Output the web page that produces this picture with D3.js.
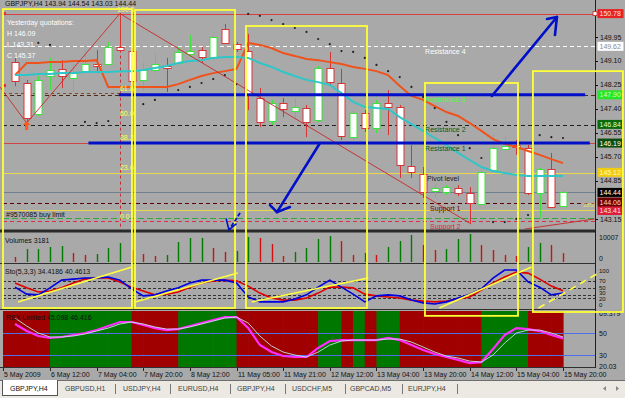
<!DOCTYPE html>
<html><head><meta charset="utf-8">
<script src="https://cdn.jsdelivr.net/npm/d3@7"></script>
<style>
body{margin:0;background:#a9a9a9;overflow:hidden}
svg{display:block}
text{font-family:"Liberation Sans",Arial,sans-serif;font-size:7px}
</style></head><body>
<svg id="chart" width="625" height="398"></svg>
<script>
// ---------------- DATA ----------------
const opens  = [149.06,148.32,147.22,148.57,148.82,148.50,148.74,148.99,148.99,149.60,149.45,148.43,148.78,148.92,149.03,149.35,149.49,149.24,150.23,149.70,149.45,147.79,146.97,147.61,147.33,147.43,147.01,148.85,148.32,146.40,147.25,146.72,147.61,147.47,145.38,145.09,144.49,144.45,144.60,144.42,144.03,145.23,145.98,146.12,146.01,144.42,145.27,143.96];
const highs  = [149.21,148.43,148.57,149.21,149.13,148.99,149.49,149.49,149.77,150.78,149.56,149.03,149.38,149.21,149.60,150.02,149.60,150.02,150.41,149.77,150.06,148.14,147.72,147.79,147.79,147.54,148.92,149.42,148.82,147.36,147.36,147.72,148.07,147.54,146.12,145.34,144.70,144.70,144.70,144.63,145.23,146.47,146.47,146.30,146.12,145.30,145.84,144.52];
const lows   = [148.21,146.90,147.15,148.07,148.14,148.00,148.71,148.67,148.96,149.42,147.89,148.04,148.71,148.00,148.99,149.24,149.03,149.13,149.70,149.42,147.36,146.76,146.83,147.11,147.01,146.40,146.94,148.25,146.30,146.30,146.58,146.55,146.47,144.95,144.95,144.24,144.24,144.35,144.31,143.31,143.99,145.20,145.94,145.77,144.35,143.53,143.89,143.92];
const closes = [148.39,147.08,148.43,148.78,148.57,148.67,148.99,148.92,149.60,149.49,148.39,148.78,148.99,148.85,149.42,149.45,149.24,149.95,149.74,149.52,147.89,146.94,147.61,147.40,147.47,146.94,148.85,148.35,146.44,147.25,146.72,147.61,147.47,145.41,145.16,144.45,144.60,144.63,144.42,144.06,145.16,146.01,146.08,146.05,144.42,145.27,143.92,144.44];
const volumes = [1790,4650,4660,5360,5720,3220,2500,2860,5000,6790,4290,2860,2140,2500,7150,8580,8600,5000,3570,3930,8930,8580,6430,2140,3570,5000,8220,9290,7500,2500,3220,2500,5360,7500,9650,6080,4290,4650,8220,10007,6080,4290,2500,2140,5360,6790,6080,3181];
const maOrange = [148.60,149.03,149.03,149.06,149.06,149.10,149.10,149.13,148.18,148.18,148.18,148.18,148.18,148.18,148.28,148.43,148.57,148.67,148.74,148.82,149.74,149.67,149.56,149.38,149.28,149.17,149.13,149.06,148.99,148.89,148.82,148.74,148.60,148.21,147.86,147.72,147.50,147.29,147.15,146.90,146.62,146.33,146.16,146.05,145.91,145.77,145.62,145.48];
const maCyan = [148.60,148.60,148.64,148.64,148.67,148.67,148.71,148.71,148.71,148.74,148.74,148.78,148.85,148.92,149.03,149.10,149.13,149.21,149.24,149.24,149.21,149.03,148.89,148.71,148.57,148.43,148.35,148.25,147.96,147.65,147.47,147.43,147.40,147.11,146.86,146.62,146.37,146.12,145.84,145.59,145.34,145.20,145.13,145.06,145.02,145.02,145.02,145.02];
const sarBars = [2,3,6,7,8,11,12,14,15,16,17,18,19,20,21,22,23,24,25,26,27,28,29,30,31,32,33,34,35,36,37,38,39,40,41,42,43,44,45,46,47];
const sarValues = [149.74,149.67,146.94,146.90,146.97,147.57,147.72,148.07,148.18,148.32,148.46,148.60,148.28,150.77,150.70,150.55,150.41,150.27,150.13,149.88,149.70,149.45,149.42,149.21,148.96,148.74,148.53,148.18,147.82,147.43,146.94,146.47,146.01,145.66,143.39,143.39,143.50,143.64,146.47,146.40,146.37];
const stochMain = [51,31,29,49,71,74,77,77,80,71,46,26,29,40,49,63,71,71,71,63,23,9,9,9,17,29,51,71,51,31,9,26,29,26,14,6,3,9,20,31,46,77,100,100,66,51,29,34.42];
const stochSignal = [63,49,37,40,49,63,74,77,77,66,51,40,29,31,37,51,63,69,71,69,54,34,20,14,14,20,34,51,51,49,31,26,23,20,14,11,9,11,17,23,43,63,80,94,91,74,54,40.46];
const rsxMain = [58.2,51.8,47.3,45.5,46.4,48.2,50,52.7,56.4,60,60,57.3,54.5,52.7,53.6,56.4,59.1,61.8,64.5,64.5,54.5,39.1,32.7,29.1,28.2,28.2,36.4,42.7,43.6,43.6,43.6,43.6,45.5,43.6,39.1,34.5,30.9,28.2,25.5,22.7,23.6,35.5,48.2,54.5,53.6,51.8,48.2,45.1];
const rsxSignal = [63.6,56.4,50,46.4,46.4,47.3,49.1,51.8,54.5,58.2,60,58.2,55.5,53.6,53.6,55.5,58.2,60.9,63.6,64.5,59.1,47.3,38.2,32.7,30,28.2,32.7,39.1,42.7,43.6,43.6,43.6,44.5,44.5,41.8,37.3,32.7,29.1,27.3,24.5,23.6,30,40.9,50,52.7,52.7,50,46.4];
const rsxTrend = [0,0,0,0,1,1,1,1,1,1,1,0,0,0,0,1,1,1,1,1,0,0,0,0,0,0,0,1,1,0,1,0,1,1,0,0,0,0,0,0,0,1,1,1,1,0,0,0];
const timeLabels = ['5 May 2009','6 May 12:00','7 May 04:00','7 May 20:00','8 May 12:00','11 May 05:00','11 May 21:00','12 May 12:00','13 May 04:00','13 May 20:00','14 May 12:00','15 May 04:00','15 May 20:00'];
const timeBars = [-1,3,7,11,15,19,23,27,31,35,39,43,47];
const priceTicks = [149.95,149.10,148.25,147.40,146.55,145.70,144.85,143.15];
const pivotNames = ['Resistance 4','Resistance 3','Resistance 2','Resistance 1','Pivot level','Support 1','Support 2'];
const pivotPrices = [149.62,147.90,146.84,146.19,145.12,144.06,143.41];
const highPrice = 150.78, bidPrice = 144.44, limitPrice = 143.53, yellowLevel = 143.82;
const boxPrices = [150.78,149.62,147.90,146.84,146.19,145.12,144.44,144.06,143.41];
const fibLevels = [100,61.8,50,38.2,23.6,0];
const fibLow = 143.41, fibHigh = 150.78, fibBar = 9;
const yesterday = ['Yesterday quotations:','H 146.09','L 143.31','C 145.37'];
const volTicks = [10007,0];
const stochTicks = [100,70,50,30,20,0];
const stochLevels = [70,50,30,20];
const rsxTicks = [69.379,50,30,20.03];
const rsxLevels = [50,30];
const tabs = ['GBPJPY,H4','GBPUSD,H1','USDJPY,H4','EURUSD,H4','GBPJPY,H4','USDCHF,M5','GBPCAD,M5','EURJPY,H4'];
// annotation objects (bar index / price / stoch value)
const boxX0 = [-1.03,10.29,19.81,35.16,44.42];
const boxX1 = [10.03,18.87,30.19,43.14,52.14];
const boxTop = [150.94,150.91,150.34,148.32,148.74];
const boxBottomStoch = [-8.6,-8.6,-8.6,-31,-20];
const blueHBar0 = [8.9,6.3], blueHBar1 = [48.9,49.3], blueHPrice = [147.90,146.19];
const stoLineB0 = [0.26,10.3,20.3,36.4,44.9], stoLineV0 = [8.6,8.6,8.6,-8.6,-8.6];
const stoLineB1 = [10.03,19.1,30.3,44.3,50.2], stoLineV1 = [108.6,91.4,77.1,108.6,94.3];
const redTrendB0 = [-1.29,1,9,43.7], redTrendP0 = [148.18,146.90,150.78,143.14];
const redTrendB1 = [1,9,39,49.7], redTrendP1 = [146.90,150.78,143.35,143.50];

// ---------------- SCALES ----------------
const svg = d3.select('#chart');
const R = 595;
const x = d3.scaleLinear().domain([0,47]).range([15,563]);
const yP = d3.scaleLinear().domain([143.15,150.78]).range([228.8,13.6]);
const yV = d3.scaleLinear().domain([0,10007]).range([262,234]);
const yS = d3.scaleLinear().domain([0,100]).range([305,270]);
const yR = d3.scaleLinear().domain([20.03,69.379]).range([366,311.7]);
const idx = d3.range(48);

svg.append('rect').attr('width',625).attr('height',398).attr('fill','#a9a9a9');
const defs = svg.append('defs');
function clip(id,x0,y0,w,h){defs.append('clipPath').attr('id',id).append('rect').attr('x',x0).attr('y',y0).attr('width',w).attr('height',h);}
clip('cp',0,0,R,229.5); clip('cv',0,233,R,30); clip('cs',0,264,R,45); clip('cr',3,311,R-3,56);

// ---------------- RSX PANE ----------------
const gr = svg.append('g').attr('clip-path','url(#cr)');
gr.selectAll('rect.blk').data(rsxTrend).join('rect')
  .attr('x',(d,i)=> i===0 ? 3 : x(i-1))
  .attr('width',(d,i)=> (i===0 ? x(0)-3 : x(i)-x(i-1)) + 0.6)
  .attr('y',311).attr('height',56)
  .attr('fill',d=> d ? '#007800' : '#a00000');
gr.selectAll('line.lv').data(rsxLevels).join('line')
  .attr('x1',3).attr('x2',R).attr('y1',d=>Math.round(yR(d))+0.5).attr('y2',d=>Math.round(yR(d))+0.5)
  .attr('stroke','#4f6fe8').attr('stroke-width',1);
const lineR = d3.line().x((d,i)=>x(i)).y(d=>yR(d));
gr.append('path').attr('d',lineR(rsxMain)).attr('fill','none').attr('stroke','#ff2cff').attr('stroke-width',2.2);
gr.append('path').attr('d',lineR(rsxSignal)).attr('fill','none').attr('stroke','#c4e4e4').attr('stroke-width',0.9);
svg.append('text').attr('x',6).attr('y',320).attr('fill','#111').text('RSX Limited 45.098 46.416');

// ---------------- STOCH PANE ----------------
const gs = svg.append('g').attr('clip-path','url(#cs)');
gs.selectAll('line.lv').data(stochLevels).join('line')
  .attr('x1',3).attr('x2',R).attr('y1',d=>Math.round(yS(d))+0.5).attr('y2',d=>Math.round(yS(d))+0.5)
  .attr('stroke','#333').attr('stroke-dasharray','3,2');
const lineS = d3.line().x((d,i)=>x(i)).y(d=>yS(d));
gs.append('path').attr('d',lineS(stochSignal)).attr('fill','none').attr('stroke','#e00000').attr('stroke-width',1.6);
gs.append('path').attr('d',lineS(stochMain)).attr('fill','none').attr('stroke','#0000e0').attr('stroke-width',1.6);
svg.append('text').attr('x',5).attr('y',274).attr('fill','#111').text('Sto(5,3,3) 34.4186 40.4613');

// ---------------- VOLUME PANE ----------------
const gv = svg.append('g').attr('clip-path','url(#cv)');
gv.selectAll('line.v').data(volumes).join('line')
  .attr('x1',(d,i)=>Math.round(x(i))+0.5).attr('x2',(d,i)=>Math.round(x(i))+0.5)
  .attr('y1',yV(0)).attr('y2',d=>yV(d))
  .attr('stroke',(d,i)=> i>0 && d>=volumes[i-1] ? '#007a00' : '#d01010').attr('stroke-width',1.4);
svg.append('text').attr('x',5).attr('y',243).attr('fill','#111').text('Volumes 3181');

// ---------------- PRICE PANE ----------------
const gp = svg.append('g').attr('clip-path','url(#cp)');
function hline(p,col,dash,w,x0,x1){
  const yy = Math.round(yP(p))+0.5;
  gp.append('line').attr('x1',x0===undefined?3:x0).attr('x2',x1===undefined?R:x1).attr('y1',yy).attr('y2',yy)
    .attr('stroke',col).attr('stroke-width',w||1).attr('stroke-dasharray',dash||null);
}
const pivotStroke = ['#ffffff','#4a2a1a','#222','#d04444','#e8d84a','#5a0000','#d8304a'];
const pivotDash = ['4,3','4,3','4,3',null,null,'4,3','4,3'];
pivotPrices.forEach((p,i)=>hline(p,pivotStroke[i],pivotDash[i],1));
hline(highPrice,'#d84040',null,1.2,3,R);
hline(bidPrice,'#6f7f8f',null,1);
hline(yellowLevel,'#e8d84a',null,1);
hline(limitPrice,'#34a834','6,3',1);
// fib
gp.append('line').attr('x1',Math.round(x(fibBar))+0.5).attr('x2',Math.round(x(fibBar))+0.5)
  .attr('y1',yP(fibHigh)).attr('y2',230).attr('stroke','#c03030').attr('stroke-dasharray','3,3');
hline(fibLow+0.618*(fibHigh-fibLow),'#8a4a20','3,3',1,3,x(fibBar));

// candles
const cg = gp.append('g');
idx.forEach(i=>{
  const up = closes[i] >= opens[i];
  const col = up ? '#3ee23e' : '#d43636';
  const cx = Math.round(x(i))+0.5;
  cg.append('line').attr('x1',cx).attr('x2',cx).attr('y1',yP(highs[i])).attr('y2',yP(lows[i])).attr('stroke',col);
  const yt = yP(Math.max(opens[i],closes[i])), yb = yP(Math.min(opens[i],closes[i]));
  cg.append('rect').attr('x',cx-3.5).attr('y',Math.round(yt)+0.5).attr('width',7).attr('height',Math.max(Math.round(yb-yt),1))
    .attr('fill','#ffffff').attr('stroke',col);
});
// MAs
const lineP = d3.line().x((d,i)=>x(i)).y(d=>yP(d));
gp.append('path').attr('d',lineP(maOrange)).attr('fill','none').attr('stroke','#f0521c').attr('stroke-width',2);
gp.append('path').attr('d',lineP(maCyan)).attr('fill','none').attr('stroke','#2ec6c8').attr('stroke-width',2);
// SAR
gp.selectAll('circle.sar').data(sarBars).join('circle')
  .attr('cx',d=>x(d)).attr('cy',(d,i)=>yP(sarValues[i])).attr('r',1.1).attr('fill','#222');
// red zigzag trend lines
redTrendB0.forEach((b,i)=>{
  gp.append('line').attr('x1',x(b)).attr('y1',yP(redTrendP0[i])).attr('x2',x(redTrendB1[i])).attr('y2',yP(redTrendP1[i]))
    .attr('stroke','#c82828').attr('stroke-width',0.9);
});
// blue horizontal lines
blueHPrice.forEach((p,i)=>{
  gp.append('line').attr('x1',x(blueHBar0[i])).attr('x2',x(blueHBar1[i])).attr('y1',yP(p)).attr('y2',yP(p))
    .attr('stroke','#0010c8').attr('stroke-width',3);
});
// orange arrow at the low
{
  const ax = x(1), ay = yP(lows[1]);
  gp.append('path').attr('d',`M${ax},${ay-2} l-4,4 h2.5 v5 h3 v-5 h2.5 z`).attr('fill','#ff5a1e');
}
// left markers
gp.append('rect').attr('x',2).attr('y',yP(highPrice)-1.5).attr('width',4).attr('height',3).attr('fill','#e03030');
gp.append('rect').attr('x',2).attr('y',yP(maOrange[0])+9).attr('width',4).attr('height',3).attr('fill','#e03030');

// fib labels
svg.selectAll('text.fib').data(fibLevels).join('text')
  .attr('x',d=> d===100 ? x(fibBar)-3 : x(fibBar)).attr('y',d=>yP(fibLow+d/100*(fibHigh-fibLow))-2)
  .attr('fill','#ffff55').text(d=>d.toFixed(1));

// pivot texts
const pivotText = ['#ffffff','#44ff44','#0c5a0c','#0c5a0c','#1a1a1a','#6a0000','#d42848'];
const pivotDx = [2,2,2,2,4,7,7];
pivotNames.forEach((n,i)=>{
  svg.append('text').attr('x',x(35)+pivotDx[i]).attr('y',yP(pivotPrices[i])+7.5).attr('fill',pivotText[i]).text(n);
});
svg.append('text').attr('x',6).attr('y',216.5).attr('fill','#111').text('#9570085 buy limit');
svg.append('text').attr('x',583).attr('y',207).attr('fill','#e8e070').style('font-size','6px').text('2855');
// header + yesterday
svg.append('text').attr('x',5).attr('y',6).attr('fill','#111').text('GBPJPY,H4  143.94 144.54 143.03 144.44');
yesterday.forEach((t,i)=>svg.append('text').attr('x',7).attr('y',25+i*11).attr('fill','#ffffff').text(t));

// ---------------- SEPARATORS & AXES ----------------
svg.append('rect').attr('x',0).attr('y',229.5).attr('width',R).attr('height',3).attr('fill','#2a2a2a');
[263.5,309.5,367.5].forEach(yy=>svg.append('line').attr('x1',0).attr('x2',R).attr('y1',yy).attr('y2',yy).attr('stroke','#303030'));
svg.append('line').attr('x1',R+0.5).attr('x2',R+0.5).attr('y1',0).attr('y2',368).attr('stroke','#202020');

// right price labels with overlap resolution
const boxFill = ['#e62222','#ffffff','#26e626','#0b6a0b','#0c4c0c','#f2cc10','#000000','#6a0202','#dc1e3a'];
const boxTxt  = ['#ffe0e0','#8a8a8a','#c8ffc8','#d8ffd8','#ffffff','#fff8c0','#ffffff','#ffd6d6','#ffe0e6'];
let items = priceTicks.map(p=>({p,type:'tick'})).concat(boxPrices.map((p,i)=>({p,type:'box',i})));
items.forEach(d=>d.y=yP(d.p));
items.sort((a,b)=>b.y-a.y);
let limit = 219;
items.forEach(d=>{ d.ly = Math.min(d.y, limit); limit = d.ly - 8.5; });
items.forEach(d=>{
  if(d.type==='tick'){
    svg.append('line').attr('x1',R).attr('x2',R+3).attr('y1',Math.round(d.ly)+0.5).attr('y2',Math.round(d.ly)+0.5).attr('stroke','#111');
    svg.append('text').attr('x',600).attr('y',d.ly+2.5).attr('fill','#111').text(d.p.toFixed(2));
  } else {
    svg.append('rect').attr('x',597.5).attr('y',d.ly-4.5).attr('width',26).attr('height',9).attr('fill',boxFill[d.i]);
    svg.append('text').attr('x',599.5).attr('y',d.ly+2.5).attr('fill',boxTxt[d.i]).text(d.p.toFixed(2));
  }
});
svg.append('rect').attr('x',593).attr('y',yP(highPrice)-2).attr('width',4).attr('height',4).attr('fill','#fff').attr('stroke','#d02020').attr('stroke-width',0.8);

// sub-pane ticks
volTicks.forEach(v=>svg.append('text').attr('x',599).attr('y',v? yV(v)+5.5 : yV(v)-1).attr('fill','#111').text(v));
const stochTickDy = {100:2.5,70:2,50:2,30:0.2,20:3,0:2};
stochTicks.forEach(v=>svg.append('text').attr('x',599).attr('y',yS(v)+stochTickDy[v]).attr('fill','#111').style('font-size','6px').text(v));
rsxTicks.forEach(v=>svg.append('text').attr('x',599).attr('y',yR(v)+ (v>60?4:2.5)).attr('fill','#111').text(v));

// time axis
timeBars.forEach((b,i)=>{
  const tx = Math.round(x(b))+0.5;
  svg.append('line').attr('x1',tx).attr('x2',tx).attr('y1',368).attr('y2',371).attr('stroke','#222');
  svg.append('text').attr('x',tx+0.5).attr('y',377).attr('fill','#111').text(timeLabels[i]);
});

// ---------------- ANNOTATIONS ----------------
boxX0.forEach((b,i)=>{
  const x0 = x(b), x1 = x(boxX1[i]), y0 = yP(boxTop[i]), y1 = yS(boxBottomStoch[i]);
  svg.append('rect').attr('x',x0).attr('y',y0).attr('width',x1-x0).attr('height',y1-y0)
    .attr('fill','none').attr('stroke','#ffff38').attr('stroke-width',1.8);
});
stoLineB0.forEach((b,i)=>{
  svg.append('line').attr('x1',x(b)).attr('y1',yS(stoLineV0[i])).attr('x2',x(stoLineB1[i])).attr('y2',yS(stoLineV1[i]))
    .attr('stroke','#ffff40').attr('stroke-width',1.6).attr('stroke-dasharray', i===4 ? '7,5' : null);
});
const bl = d3.line().x(d=>x(d[0])).y(d=>yP(d[1]));
const arrowsBlue = [
  [[40.9,147.86],[46.48,150.66]], [[45.63,150.59],[46.48,150.66],[46.31,150.02]],
  [[26.16,146.19],[22.47,143.74]], [[21.87,143.99],[22.47,143.74],[23.58,143.92]]
];
arrowsBlue.forEach(a=>svg.append('path').attr('d',bl(a)).attr('fill','none').attr('stroke','#0010c8').attr('stroke-width',2.6).attr('stroke-linecap','round').attr('stroke-linejoin','round'));
svg.append('path').attr('d',bl([[19.3,143.71],[18.35,143.11]])).attr('fill','none').attr('stroke','#0010c8').attr('stroke-width',1.8).attr('stroke-dasharray','4,2');
svg.append('path').attr('d',bl([[18.1,143.52],[18.35,143.11],[19.0,143.33]])).attr('fill','none').attr('stroke','#0010c8').attr('stroke-width',1.6);

// ---------------- TABS ----------------
svg.append('rect').attr('x',0).attr('y',380).attr('width',625).attr('height',18).attr('fill','#ebe9e2');
svg.append('line').attr('x1',0).attr('x2',625).attr('y1',380.5).attr('y2',380.5).attr('stroke','#6e6e6e');
svg.append('rect').attr('x',2.5).attr('y',380.5).attr('width',55).attr('height',15).attr('fill','#ffffff').attr('stroke','#555');
svg.append('line').attr('x1',3).attr('x2',57).attr('y1',380.5).attr('y2',380.5).attr('stroke','#ffffff');
const tabX = [10,65,123,178,237,292,350,408];
const sepX = [115,170,230,285,345,402,457];
tabs.forEach((t,i)=>svg.append('text').attr('x',tabX[i]).attr('y',391).attr('fill', i===0?'#111':'#444').text(t));
sepX.forEach(s=>svg.append('line').attr('x1',s+0.5).attr('x2',s+0.5).attr('y1',384).attr('y2',394).attr('stroke','#777'));
svg.append('path').attr('d','M603,388.5 l3,-2.5 v5 z').attr('fill','#888');
svg.append('path').attr('d','M619,388.5 l-3,-2.5 v5 z').attr('fill','#888');
</script></body></html>
